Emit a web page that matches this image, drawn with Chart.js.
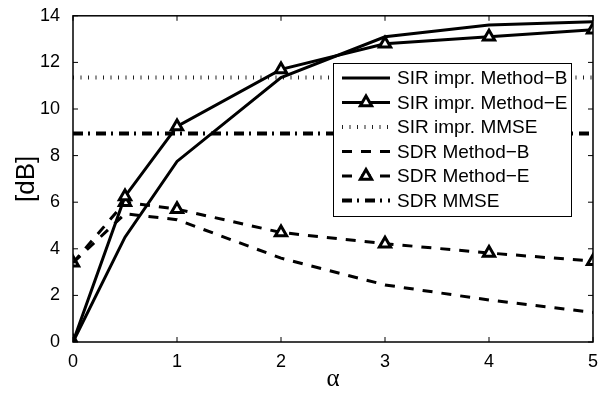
<!DOCTYPE html>
<html><head><meta charset="utf-8">
<script src="https://cdn.jsdelivr.net/npm/chart.js@4/dist/chart.umd.min.js"></script>
<style>html,body{margin:0;padding:0;background:#fff}#wrap{width:605px;height:394px}</style>
</head><body><div id="wrap"><canvas id="c" width="605" height="394"></canvas></div>
<script>
const alpha = [0, 0.5, 1, 2, 3, 4, 5];
const sirMethodB = [0, 4.5, 7.75, 11.35, 13.1, 13.6, 13.75];
const sirMethodE = [0, 6.25, 9.25, 11.7, 12.8, 13.1, 13.4];
const sirMmse = 11.35;
const sdrMethodB = [3.4, 5.5, 5.25, 3.6, 2.45, 1.8, 1.27];
const sdrMethodE = [3.4, 6.0, 5.7, 4.7, 4.22, 3.82, 3.47];
const sdrMmse = 8.95;
const xTicks = [0, 1, 2, 3, 4, 5];
const yTicks = [0, 2, 4, 6, 8, 10, 12, 14];
const labels = ["SIR impr. Method\u2212B","SIR impr. Method\u2212E","SIR impr. MMSE","SDR Method\u2212B","SDR Method\u2212E","SDR MMSE"];

const pts = (xs, ys) => xs.map((x, i) => ({x, y: ys[i]}));
const flat = v => [{x: alpha[0], y: v}, {x: alpha[alpha.length-1], y: v}];
const FONT = "'Liberation Sans', Arial, Helvetica, sans-serif";
const SERIF = "'Liberation Serif', 'Times New Roman', serif";
const TRI_R = 6.5, TRI_W = 3;

const base = {borderColor:'#000', fill:false, tension:0, pointRadius:0, pointHoverRadius:0};
const tri = {pointStyle:'triangle', pointRadius:TRI_R, pointBorderWidth:TRI_W, pointBackgroundColor:'#fff', pointBorderColor:'#000'};
const datasets = [
  {...base, label:labels[0], data:pts(alpha, sirMethodB), borderWidth:3},
  {...base, ...tri, label:labels[1], data:pts(alpha, sirMethodE), borderWidth:3},
  {...base, label:labels[2], data:flat(sirMmse), borderWidth:4, borderDash:[1,6.5], borderColor:'#222'},
  {...base, label:labels[3], data:pts(alpha, sdrMethodB), borderWidth:3, borderDash:[10,9]},
  {...base, ...tri, label:labels[4], data:pts(alpha, sdrMethodE), borderWidth:3, borderDash:[10,9]},
  {...base, label:labels[5], data:flat(sdrMmse), borderWidth:4, borderDash:[10,5,2,6]}
];

const frame = {
  id:'frame',
  afterDatasetsDraw(chart){
    const {ctx, chartArea:a, scales:{x, y}} = chart;
    ctx.save();
    ctx.strokeStyle = '#000'; ctx.lineWidth = 1.5; ctx.setLineDash([]);
    ctx.strokeRect(a.left, a.top, a.right - a.left, a.bottom - a.top);
    ctx.lineWidth = 1;
    const L = 5;
    ctx.beginPath();
    xTicks.forEach(v => { const p = x.getPixelForValue(v);
      ctx.moveTo(p, a.bottom); ctx.lineTo(p, a.bottom - L);
      ctx.moveTo(p, a.top); ctx.lineTo(p, a.top + L); });
    yTicks.forEach(v => { const p = y.getPixelForValue(v);
      ctx.moveTo(a.left, p); ctx.lineTo(a.left + L, p);
      ctx.moveTo(a.right, p); ctx.lineTo(a.right - L, p); });
    ctx.stroke();
    // legend
    const bx = 333, by = 63, bw = 238, bh = 153, rowH = 24.5;
    ctx.fillStyle = '#fff'; ctx.fillRect(bx, by, bw, bh);
    ctx.strokeStyle = '#000'; ctx.lineWidth = 1; ctx.strokeRect(bx + 0.5, by + 0.5, bw, bh);
    chart.data.datasets.forEach((d, i) => {
      const cy = by + 15 + i * rowH;
      const x0 = bx + 9, x1 = bx + 57;
      ctx.save();
      ctx.strokeStyle = d.borderColor; ctx.lineWidth = d.borderWidth;
      ctx.setLineDash(d.borderDash || []);
      ctx.beginPath(); ctx.moveTo(x0, cy); ctx.lineTo(x1, cy); ctx.stroke();
      ctx.setLineDash([]);
      if (d.pointStyle === 'triangle') {
        ctx.fillStyle = '#fff'; ctx.strokeStyle = '#000'; ctx.lineWidth = TRI_W;
        ctx.beginPath();
        const r = TRI_R, xc = (x0 + x1)/2;
        ctx.moveTo(xc, cy - r); ctx.lineTo(xc + r*0.866, cy + r*0.5); ctx.lineTo(xc - r*0.866, cy + r*0.5); ctx.closePath();
        ctx.fill(); ctx.stroke();
      }
      ctx.restore();
      ctx.fillStyle = '#000'; ctx.font = '19px ' + FONT; ctx.textBaseline = 'middle'; ctx.textAlign = 'left';
      ctx.fillText(d.label, bx + 64, cy + 1);
    });
    ctx.restore();
  }
};

new Chart(document.getElementById('c'), {
  type:'line',
  data:{datasets},
  options:{
    responsive:false, animation:false, events:[],
    layout:{padding:{top:13, right:12, left:0, bottom:0}},
    plugins:{legend:{display:false}, tooltip:{enabled:false}},
    scales:{
      x:{type:'linear', min:0, max:5,
        afterFit(s){ s.height = 52; },
        afterBuildTicks(s){ s.ticks = xTicks.map(v => ({value:v})); },
        grid:{display:false}, border:{display:false},
        ticks:{color:'#000', font:{family:FONT, size:18}, padding:1, maxRotation:0},
        title:{display:true, text:'\u03b1', color:'#000', font:{family:SERIF, size:25}, padding:{top:-4, bottom:0}}},
      y:{type:'linear', min:0, max:14,
        afterFit(s){ s.width = 73; },
        afterBuildTicks(s){ s.ticks = yTicks.map(v => ({value:v})); },
        grid:{display:false}, border:{display:false},
        ticks:{color:'#000', font:{family:FONT, size:18}, padding:5},
        title:{display:true, text:'[dB]', color:'#000', font:{family:FONT, size:26}, padding:{top:11, bottom:0}}}
    }
  },
  plugins:[frame]
});
</script></body></html>
